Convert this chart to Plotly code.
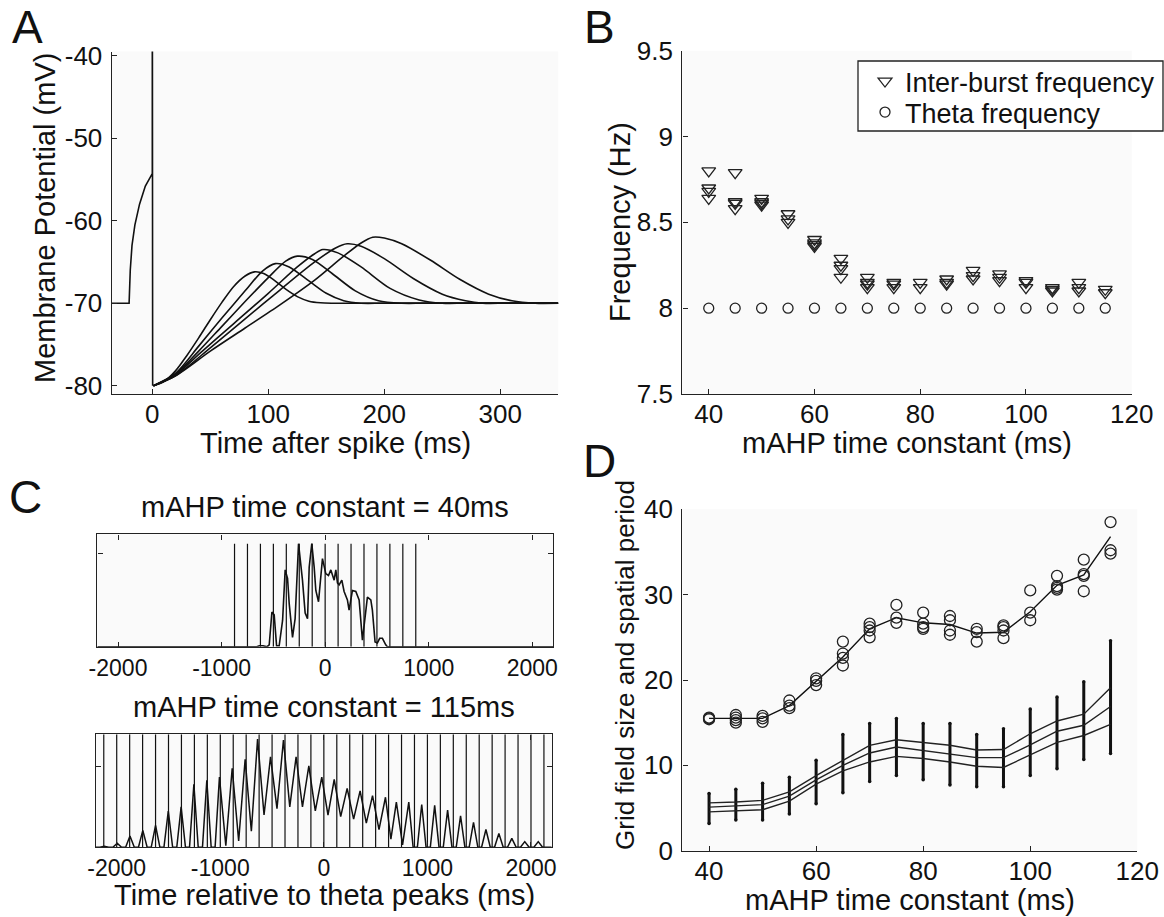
import plotly.graph_objects as go

W, H = 1164, 917
FONT = "Liberation Sans, Arial, sans-serif"
INK = "#111111"

# ---------------- Panel A : membrane potential after a spike ----------------
a_pre_t = [-35, -20, -19, -17.5, -15, -11, -6, 0, 0, 0.3]
a_pre_v = [-70, -70, -66, -63, -60.5, -58, -55.8, -54.3, -20, -80]

a_c1_t = [1, 10, 20, 30, 40, 50, 60, 70, 80, 88, 96, 105, 115, 125, 135, 145, 155, 175, 350]
a_c1_v = [-80, -79.5, -78.2, -76.3, -74.2, -72.0, -69.9, -68.0, -66.7, -66.2, -66.4, -67.2, -68.3, -69.2, -69.75, -69.95, -70, -70, -70]
a_c2_t = [1, 20, 40, 60, 80, 95, 106, 118, 135, 150, 165, 180, 200, 350]
a_c2_v = [-80, -78.5, -75.2, -71.8, -68.5, -66.1, -65.2, -65.6, -67.3, -68.8, -69.7, -70, -70, -70]
a_c3_t = [1, 20, 40, 60, 80, 100, 115, 125, 138, 155, 175, 195, 215, 235, 350]
a_c3_v = [-80, -78.6, -75.8, -72.8, -69.8, -66.9, -64.9, -64.3, -64.7, -66.4, -68.5, -69.7, -70, -70, -70]
a_c4_t = [1, 20, 40, 70, 100, 125, 140, 147, 160, 180, 205, 230, 250, 270, 350]
a_c4_v = [-80, -78.7, -76.2, -72.5, -68.8, -65.6, -64.0, -63.5, -63.9, -65.6, -68.2, -69.6, -70, -70, -70]
a_c5_t = [1, 20, 50, 80, 110, 140, 158, 168, 180, 200, 225, 250, 270, 285, 305, 350]
a_c5_v = [-80, -78.8, -75.4, -71.9, -68.4, -65.0, -63.3, -62.8, -63.1, -64.6, -67.0, -68.9, -69.7, -70, -70, -70]
a_c6_t = [1, 20, 50, 80, 110, 140, 165, 180, 190, 200, 215, 240, 265, 290, 310, 330, 350]
a_c6_v = [-80, -78.8, -75.8, -73.0, -70.2, -67.2, -64.3, -62.7, -62.0, -62.1, -62.8, -64.8, -67.1, -68.9, -69.7, -70, -70]
a_curves = [(a_c1_t, a_c1_v), (a_c2_t, a_c2_v), (a_c3_t, a_c3_v),
            (a_c4_t, a_c4_v), (a_c5_t, a_c5_v), (a_c6_t, a_c6_v)]

# ---------------- Panel B : frequencies ----------------
b_tau = [40, 45, 50, 55, 60, 65, 70, 75, 80, 85, 90, 95, 100, 105, 110, 115]
b_interburst = [
    [8.80, 8.70, 8.68, 8.64],
    [8.79, 8.62, 8.61, 8.58],
    [8.64, 8.62, 8.61, 8.60],
    [8.55, 8.52, 8.50],
    [8.40, 8.38, 8.37, 8.36],
    [8.29, 8.25, 8.23, 8.18],
    [8.18, 8.15, 8.14, 8.12],
    [8.15, 8.14, 8.12],
    [8.15, 8.12],
    [8.17, 8.15, 8.14],
    [8.22, 8.19, 8.17],
    [8.20, 8.18, 8.16],
    [8.16, 8.15, 8.12],
    [8.12, 8.11, 8.10],
    [8.15, 8.12, 8.10],
    [8.11, 8.09],
]
b_theta = [8.0, 8.0, 8.0, 8.0, 8.0, 8.0, 8.0, 8.0, 8.0, 8.0, 8.0, 8.0, 8.0, 8.0, 8.0, 8.0]

# ---------------- Panel C : firing relative to theta peaks ----------------
c40_theta = [-875, -750, -625, -500, -375, -250, -125, 0, 125, 250, 375, 500, 625, 750, 875]
c40_t = [-2200, -660, -636, -600, -560, -540, -514, -492, -469, -444, -411, -386, -363, -347,
         -315, -290, -257, -235, -219, -193, -170, -154, -129, -106, -90, -64, -42, -26, 6, 32,
         55, 87, 103, 119, 135, 161, 183, 215, 231, 263, 296, 328, 360, 386, 408, 441, 456, 482,
         504, 527, 553, 585, 601, 2200]
c40_v = [0, 0, 0.01, 0.01, 0.0, 0.02, 0.37, 0.34, 0.01, 0.01, 0.28, 0.82, 0.73, 0.46,
         0.10, 0.30, 1.10, 0.91, 0.71, 0.36, 0.30, 0.85, 1.10, 0.85, 0.60, 0.48, 0.78, 0.94, 0.78, 0.76,
         0.82, 0.71, 0.82, 0.68, 0.66, 0.71, 0.59, 0.50, 0.39, 0.60, 0.59, 0.50, 0.07, 0.32, 0.53, 0.50, 0.39, 0.05,
         0.04, 0.09, 0.09, 0.02, 0, 0]

c115_theta = [-2125, -2000, -1875, -1750, -1625, -1500, -1375, -1250, -1125, -1000, -875, -750,
              -625, -500, -375, -250, -125, 0, 125, 250, 375, 500, 625, 750, 875, 1000, 1125,
              1250, 1375, 1500, 1625, 1750, 1875, 2000, 2125]
c115_peak_t = [-2120, -1995, -1872, -1748, -1625, -1502, -1378, -1255, -1130, -1008, -885, -760,
               -640, -515, -390, -268, -145, -20, 100, 225, 350, 470, 595, 700, 820, 945, 1070,
               1195, 1320, 1445, 1565, 1690, 1815, 1940, 2070]
c115_peak_v = [0.014, 0.05, 0.14, 0.21, 0.27, 0.45, 0.50, 0.78, 0.83, 0.87, 0.98, 1.09,
               1.34, 1.12, 1.33, 1.12, 1.01, 0.87, 0.84, 0.73, 0.70, 0.64, 0.62, 0.56, 0.56, 0.53, 0.52,
               0.46, 0.39, 0.31, 0.22, 0.17, 0.11, 0.07, 0.07]
c115_trough_v = [0, 0, 0, 0, 0, 0, 0, 0, 0, 0.02, 0.08, 0.2, 0.4, 0.48, 0.5, 0.5, 0.45,
                 0.4, 0.38, 0.35, 0.3, 0.22, 0.1, 0.03, 0, 0, 0, 0, 0, 0, 0, 0, 0, 0]
c115_halfwidth = 42  # ms, half base width of one firing bump

# ---------------- Panel D : grid field size & spatial period ----------------
d_tau = [40, 45, 50, 55, 60, 65, 70, 75, 80, 85, 90, 95, 100, 105, 110, 115]
d_period_pts = [
    [15.6, 15.5, 15.4],
    [15.9, 15.6, 15.3, 15.0],
    [15.8, 15.5, 15.1],
    [17.6, 17.0, 16.7],
    [20.2, 19.9, 19.4],
    [24.5, 23.1, 22.6, 21.7],
    [26.6, 26.2, 25.8, 25.0],
    [28.8, 27.3, 26.7],
    [27.9, 26.6, 26.2, 26.0],
    [27.5, 27.0, 25.8, 25.3],
    [26.0, 25.6, 24.5],
    [26.4, 26.2, 25.8, 24.9],
    [30.5, 27.9, 27.0],
    [32.2, 31.0, 30.8, 30.6],
    [34.1, 32.4, 32.2, 30.4],
    [38.5, 35.2, 34.8],
]
d_period_mean = [15.5, 15.5, 15.5, 17.0, 19.9, 22.7, 26.0, 27.3, 26.7, 26.5, 25.5, 25.6, 28.0, 31.1, 32.3, 36.8]
d_field_hi = [5.6, 5.7, 5.9, 6.9, 8.8, 10.6, 12.35, 13.0, 12.7, 12.35, 11.8, 11.85, 13.7, 15.2, 16.0, 19.1]
d_field_mid = [5.1, 5.25, 5.4, 6.4, 8.3, 10.0, 11.45, 12.15, 11.75, 11.35, 10.9, 10.9, 12.4, 14.0, 14.7, 16.9]
d_field_lo = [4.55, 4.65, 4.8, 5.8, 7.8, 9.35, 10.4, 11.05, 10.8, 10.4, 9.9, 9.75, 11.2, 12.7, 13.5, 14.8]
d_field_max = [6.7, 7.2, 7.9, 8.6, 10.6, 13.6, 14.9, 15.5, 14.9, 14.9, 13.6, 14.3, 16.6, 18.0, 19.8, 24.6]
d_field_min = [3.2, 3.6, 3.6, 4.3, 5.5, 6.8, 8.1, 8.8, 8.3, 7.7, 7.5, 7.5, 8.8, 9.6, 10.7, 11.4]

# ---------------- helpers (layout only) ----------------
def fx(px):
    return px / W

def fy(py):
    return 1 - py / H

def segs(xs, lo, hi):
    sx, sy = [], []
    for x, a, b in zip(xs, lo, hi):
        sx += [x, x, None]
        sy += [a, b, None]
    return sx, sy

fig = go.Figure()
LINE = dict(color=INK, width=1.6)

# Panel A traces
fig.add_trace(go.Scatter(x=a_pre_t, y=a_pre_v, mode="lines", line=LINE,
                         xaxis="x", yaxis="y", showlegend=False, hoverinfo="skip"))
for t, v in a_curves:
    fig.add_trace(go.Scatter(x=t, y=v, mode="lines",
                             line=dict(color=INK, width=1.6, shape="spline", smoothing=0.8),
                             xaxis="x", yaxis="y", showlegend=False, hoverinfo="skip"))

# Panel B traces (each in its own legend so row spacing can follow the reference)
bx, by = [], []
for x, vals in zip(b_tau, b_interburst):
    for v in vals:
        bx.append(x)
        by.append(v)
fig.add_trace(go.Scatter(x=bx, y=by, mode="markers", name="Inter-burst frequency",
                         marker=dict(symbol="triangle-down-open", size=12, color="#222222",
                                     line=dict(width=1.3, color="#222222")),
                         xaxis="x2", yaxis="y2", legend="legend", showlegend=True))
fig.add_trace(go.Scatter(x=b_tau, y=b_theta, mode="markers", name="Theta frequency",
                         marker=dict(symbol="circle-open", size=10, color="#222222",
                                     line=dict(width=1.3, color="#222222")),
                         xaxis="x2", yaxis="y2", legend="legend2", showlegend=True))

# Panel C top
sx, sy = segs(c40_theta, [0] * len(c40_theta), [1.1] * len(c40_theta))
fig.add_trace(go.Scatter(x=sx, y=sy, mode="lines", line=dict(color=INK, width=1.2),
                         xaxis="x3", yaxis="y3", showlegend=False, hoverinfo="skip"))
fig.add_trace(go.Scatter(x=c40_t, y=c40_v, mode="lines", line=dict(color=INK, width=1.6),
                         xaxis="x3", yaxis="y3", showlegend=False, hoverinfo="skip"))

# Panel C bottom
sx, sy = segs(c115_theta, [0] * len(c115_theta), [1.4] * len(c115_theta))
fig.add_trace(go.Scatter(x=sx, y=sy, mode="lines", line=dict(color=INK, width=1.2),
                         xaxis="x4", yaxis="y4", showlegend=False, hoverinfo="skip"))
HW = c115_halfwidth
ct, cv = [-2200], [0]
n = len(c115_peak_t)
for k in range(n):
    if k == 0:
        ct.append(c115_peak_t[k] - HW); cv.append(0)
    ct.append(c115_peak_t[k]); cv.append(c115_peak_v[k])
    if k < n - 1:
        tr = c115_trough_v[k]
        if tr == 0:
            ct += [c115_peak_t[k] + HW, c115_peak_t[k + 1] - HW]
            cv += [0, 0]
        else:
            ct.append((c115_peak_t[k] + c115_peak_t[k + 1]) / 2); cv.append(tr)
    else:
        ct.append(c115_peak_t[k] + HW); cv.append(0)
ct.append(2200); cv.append(0)
fig.add_trace(go.Scatter(x=ct, y=cv, mode="lines", line=dict(color=INK, width=1.5),
                         xaxis="x4", yaxis="y4", showlegend=False, hoverinfo="skip"))

# Panel D
sx, sy = segs(d_tau, d_field_min, d_field_max)
fig.add_trace(go.Scatter(x=sx, y=sy, mode="lines", line=dict(color=INK, width=3),
                         xaxis="x5", yaxis="y5", showlegend=False, hoverinfo="skip"))
fig.add_trace(go.Scatter(x=d_tau + d_tau, y=d_field_min + d_field_max, mode="markers",
                         marker=dict(size=3.5, color=INK),
                         xaxis="x5", yaxis="y5", showlegend=False, hoverinfo="skip"))
for series in (d_field_hi, d_field_mid, d_field_lo):
    fig.add_trace(go.Scatter(x=d_tau, y=series, mode="lines", line=dict(color="#222222", width=1.4),
                             xaxis="x5", yaxis="y5", showlegend=False, hoverinfo="skip"))
px_, py_ = [], []
for x, vals in zip(d_tau, d_period_pts):
    for v in vals:
        px_.append(x)
        py_.append(v)
fig.add_trace(go.Scatter(x=d_tau, y=d_period_mean, mode="lines", line=dict(color=INK, width=1.4),
                         xaxis="x5", yaxis="y5", showlegend=False, hoverinfo="skip"))
fig.add_trace(go.Scatter(x=px_, y=py_, mode="markers",
                         marker=dict(symbol="circle-open", size=11, color="#222222",
                                     line=dict(width=1.3, color="#222222")),
                         xaxis="x5", yaxis="y5", showlegend=False, hoverinfo="skip"))

TICKFONT = dict(family=FONT, size=26, color=INK)
CTICKFONT = dict(family=FONT, size=23, color=INK)

def ax(domain, rng, anchor, tickvals=None, ticktext=None, mirror=False, showlabels=True,
       standoff=0, font=TICKFONT):
    d = dict(domain=domain, range=rng, anchor=anchor, showline=True, linecolor="#222222",
             linewidth=1.4, ticks="inside", ticklen=5, tickwidth=1.2, tickcolor="#222222",
             showgrid=False, zeroline=False, tickfont=font, fixedrange=True, automargin=False,
             showticklabels=showlabels, ticklabelstandoff=standoff)
    if tickvals is not None:
        d["tickmode"] = "array"
        d["tickvals"] = tickvals
        if ticktext is not None:
            d["ticktext"] = ticktext
    if mirror:
        d["mirror"] = "allticks"
    return d

LEGFONT = dict(family=FONT, size=27, color=INK)
layout = dict(
    width=W, height=H, margin=dict(l=0, r=0, t=0, b=0, autoexpand=False),
    paper_bgcolor="#ffffff", plot_bgcolor="#fafafa",
    font=dict(family=FONT, color=INK),
    xaxis=ax([fx(111.7), fx(558.3)], [-35, 350], "y", [0, 100, 200, 300], standoff=-3),
    yaxis=ax([fy(394), fy(51.5)], [-81, -39.5], "x", [-80, -70, -60, -50, -40],
             ["-80", "-70", "-60", "-50", "-40"], standoff=3),
    xaxis2=ax([fx(682.3), fx(1131.7)], [35, 120], "y2", [40, 60, 80, 100, 120], standoff=-3),
    yaxis2=ax([fy(394), fy(50.7)], [7.5, 9.5], "x2", [7.5, 8, 8.5, 9, 9.5],
              ["7.5", "8", "8.5", "9", "9.5"], standoff=3),
    xaxis3=ax([fx(97.3), fx(553)], [-2200, 2200], "y3", [-2000, -1000, 0, 1000, 2000],
              ["-2000", "-1000", "0", "1000", "2000"], mirror=True, font=CTICKFONT),
    yaxis3=ax([fy(646.7), fy(534.3)], [0, 1.2], "x3", [1], mirror=True, showlabels=False),
    xaxis4=ax([fx(96), fx(551.7)], [-2200, 2200], "y4", [-2000, -1000, 0, 1000, 2000],
              ["-2000", "-1000", "0", "1000", "2000"], mirror=True, font=CTICKFONT),
    yaxis4=ax([fy(847.3), fy(734.3)], [0, 1.4], "x4", [1], mirror=True, showlabels=False),
    xaxis5=ax([fx(682.3), fx(1137.3)], [35, 120], "y5", [40, 60, 80, 100, 120], standoff=-3),
    yaxis5=ax([fy(850.7), fy(509.3)], [0, 40], "x5", [0, 10, 20, 30, 40], standoff=3),
    legend=dict(x=fx(865), y=fy(57), xanchor="left", yanchor="top", borderwidth=0,
                bgcolor="rgba(0,0,0,0)", font=LEGFONT, itemwidth=30),
    legend2=dict(x=fx(865), y=fy(88), xanchor="left", yanchor="top", borderwidth=0,
                 bgcolor="rgba(0,0,0,0)", font=LEGFONT, itemwidth=30),
    showlegend=True,
    shapes=[dict(type="rect", xref="paper", yref="paper", x0=fx(858), x1=fx(1163),
                 y0=fy(131), y1=fy(61), line=dict(color="#222222", width=1.3),
                 fillcolor="#ffffff", layer="below")],
)
fig.update_layout(**layout)

def note(text, x, y, size, angle=0):
    fig.add_annotation(text=text, x=fx(x), y=fy(y), xref="paper", yref="paper",
                       xanchor="center", yanchor="middle", showarrow=False, textangle=angle,
                       font=dict(family=FONT, size=size, color=INK))

note("A", 27, 27, 46)
note("B", 600, 27, 46)
note("C", 25, 497, 46)
note("D", 600, 461, 46)
note("Time after spike (ms)", 335, 443, 29)
note("Membrane Potential (mV)", 45, 218, 29, -90)
note("mAHP time constant (ms)", 907, 443, 29)
note("Frequency (Hz)", 620, 222, 29, -90)
note("mAHP time constant = 40ms", 325, 507, 29)
note("mAHP time constant = 115ms", 324, 707, 29)
note("Time relative to theta peaks (ms)", 324, 895, 29)
note("mAHP time constant (ms)", 910, 900, 29)
note("Grid field size and spatial period", 625, 665, 26, -90)

fig.write_html("out.html", config={"displayModeBar": False},
               post_script="document.body.style.margin='0';document.body.style.overflow='hidden';")
